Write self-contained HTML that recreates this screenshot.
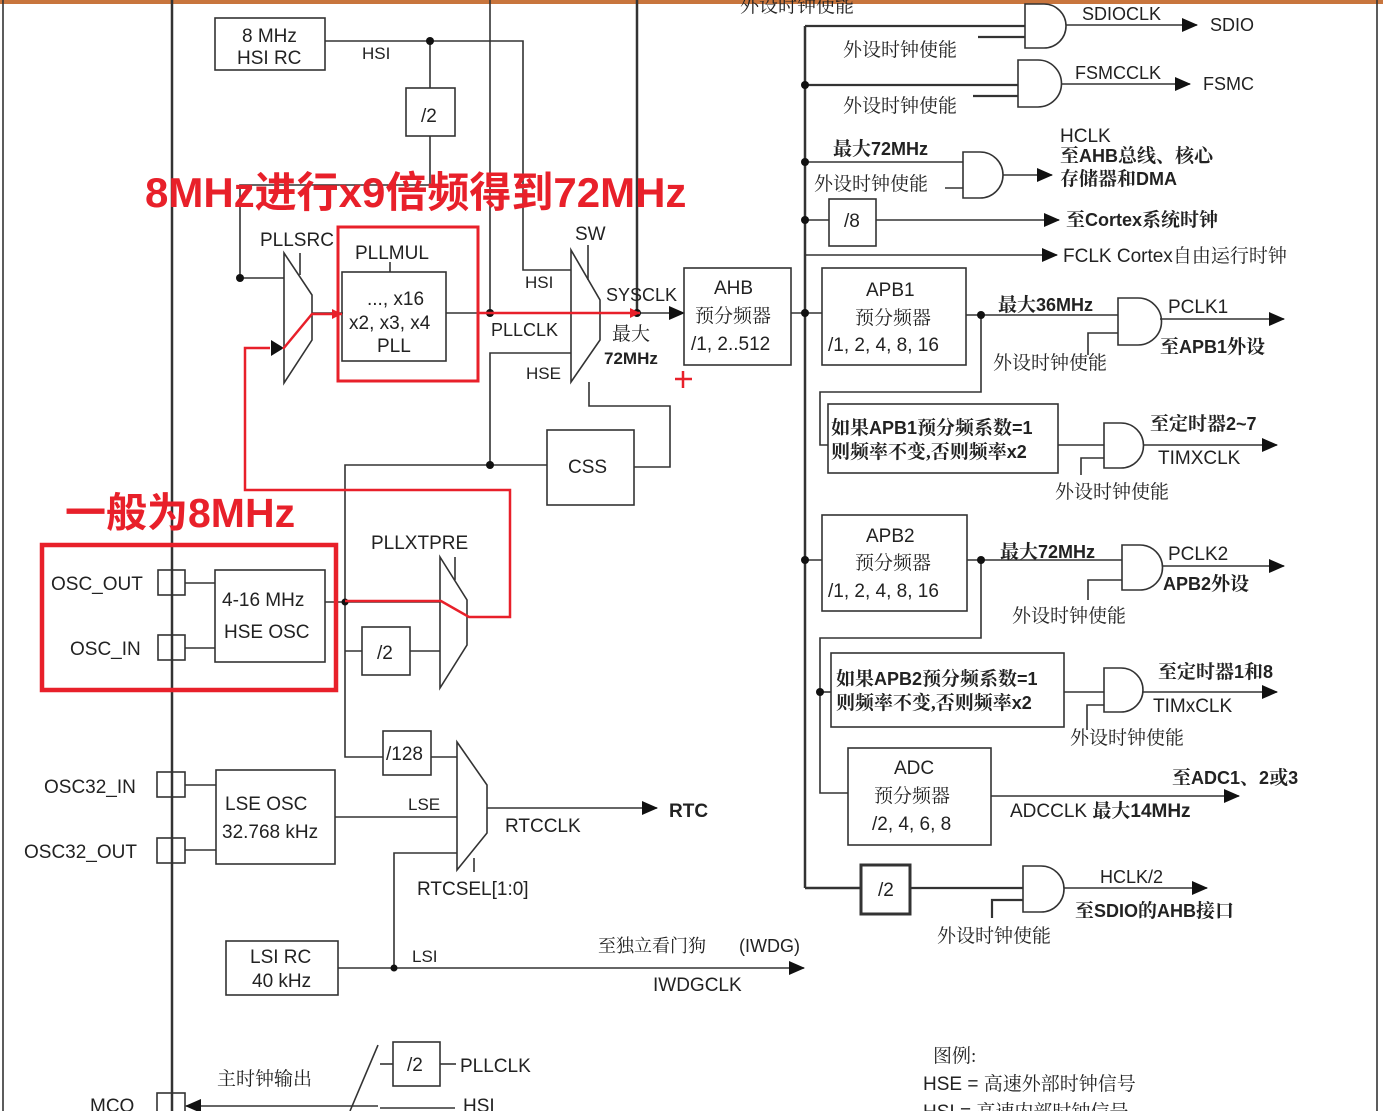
<!DOCTYPE html>
<html><head><meta charset="utf-8"><style>
html,body{margin:0;padding:0;background:#fff;}
svg{display:block;}
text{font-family:"Liberation Sans","Noto Sans CJK SC",sans-serif;font-size:19px;fill:#222;}
.c{font-family:"Liberation Serif","Noto Serif CJK SC",serif;font-size:19px;}
.b{font-weight:bold;}
.r{fill:#e8202a;font-weight:bold;font-family:"Liberation Sans","Noto Sans CJK SC",sans-serif;}
</style></head><body>
<svg width="1383" height="1111" viewBox="0 0 1383 1111" xmlns="http://www.w3.org/2000/svg">
<defs>
<marker id="a" markerWidth="16" markerHeight="14" refX="15" refY="7" orient="auto" markerUnits="userSpaceOnUse"><path d="M0,0 L16,7 L0,14 Z" fill="#111"/></marker>
<marker id="ar" markerWidth="12" markerHeight="10" refX="10" refY="5" orient="auto" markerUnits="userSpaceOnUse"><path d="M0,0 L10,5 L0,10 Z" fill="#e8202a"/></marker>
</defs>
<rect x="0" y="0" width="1383" height="4" fill="#c8753d"/>
<g stroke="#333" stroke-width="1.6" fill="none">
<line x1="3" y1="0" x2="3" y2="1111"/>
<line x1="1377" y1="0" x2="1377" y2="1111"/>
<line x1="172" y1="0" x2="172" y2="1111" stroke-width="2.5"/>
<rect x="215" y="18" width="110" height="52"/>
<polyline points="325,41 523,41 523,270 571,270"/>
<line x1="430" y1="41" x2="430" y2="88"/>
<rect x="406" y="88" width="49" height="48"/>
<polyline points="430,136 430,185 240,185 240,278 284,278"/>
<line x1="490" y1="0" x2="490" y2="313"/>
<line x1="637" y1="0" x2="637" y2="313" stroke-width="2.5"/>
<polygon points="284,253 312,295 312,340 284,383"/>
<line x1="300" y1="253" x2="300" y2="275"/>
<line x1="312" y1="313" x2="343" y2="313"/>
<line x1="390" y1="262" x2="390" y2="272"/>
<rect x="342" y="272" width="104" height="89"/>
<line x1="446" y1="313" x2="571" y2="313"/>
<polygon points="571,250 600,300 600,340 571,382"/>
<line x1="588" y1="245" x2="588" y2="280"/>
<polyline points="490,465 490,353 571,353"/>
<line x1="600" y1="313" x2="684" y2="313" marker-end="url(#a)"/>
<polyline points="589,382 589,406 670,406 670,467 634,467"/>
<rect x="547" y="430" width="87" height="75"/>
<polyline points="547,465 345,465 345,757 383,757"/>
<rect x="684" y="268" width="107" height="97"/>
<line x1="791" y1="313" x2="822" y2="313"/>
<rect x="158" y="570" width="27" height="25"/>
<rect x="158" y="635" width="27" height="25"/>
<line x1="185" y1="583" x2="215" y2="583"/>
<line x1="185" y1="648" x2="215" y2="648"/>
<rect x="215" y="570" width="110" height="92"/>
<line x1="325" y1="602" x2="440" y2="602"/>
<polyline points="345,651 362,651"/>
<rect x="362" y="627" width="48" height="48"/>
<line x1="410" y1="651" x2="440" y2="651"/>
<polygon points="440,557 467,600 467,645 440,688"/>
<line x1="455" y1="557" x2="455" y2="580"/>
<rect x="383" y="731" width="48" height="44"/>
<line x1="431" y1="757" x2="457" y2="757"/>
<polygon points="457,742 487,785 487,833 457,870"/>
<line x1="474" y1="858" x2="474" y2="872"/>
<rect x="157" y="772" width="28" height="25"/>
<rect x="157" y="838" width="28" height="25"/>
<line x1="185" y1="785" x2="216" y2="785"/>
<line x1="185" y1="850" x2="216" y2="850"/>
<rect x="216" y="770" width="119" height="94"/>
<line x1="335" y1="817" x2="457" y2="817"/>
<line x1="487" y1="808" x2="657" y2="808" marker-end="url(#a)"/>
<polyline points="457,853 394,853 394,968"/>
<rect x="226" y="941" width="112" height="54"/>
<line x1="338" y1="968" x2="804" y2="968" marker-end="url(#a)"/>
<rect x="157" y="1093" width="28" height="25"/>
<line x1="378" y1="1106" x2="186" y2="1106" marker-end="url(#a)"/>
<line x1="378" y1="1045" x2="350" y2="1111"/>
<line x1="380" y1="1064" x2="393" y2="1064"/>
<rect x="393" y="1042" width="47" height="44"/>
<line x1="440" y1="1064" x2="456" y2="1064"/>
<line x1="380" y1="1108" x2="455" y2="1108"/>
<line x1="805" y1="26" x2="805" y2="888" stroke-width="2.5"/>
<line x1="805" y1="888" x2="861" y2="888" stroke-width="2.5"/>
<line x1="805" y1="26" x2="1025" y2="26" stroke-width="2.2"/>
<path d="M1025,4 H1044 A22,22 0 0 1 1044,48 H1025 Z"/>
<line x1="978" y1="37" x2="1025" y2="37" stroke-width="2.2"/>
<line x1="1066" y1="25" x2="1197" y2="25" marker-end="url(#a)"/>
<line x1="805" y1="85" x2="1018" y2="85" stroke-width="2.2"/>
<path d="M1018,60 H1038 A23,23 0 0 1 1038,107 H1018 Z"/>
<line x1="973" y1="96" x2="1018" y2="96" stroke-width="2.2"/>
<line x1="1061" y1="84" x2="1190" y2="84" marker-end="url(#a)"/>
<line x1="805" y1="162" x2="963" y2="162"/>
<path d="M963,152 H980 A23,23 0 0 1 980,198 H963 Z"/>
<line x1="945" y1="188" x2="963" y2="188"/>
<line x1="1003" y1="175" x2="1052" y2="175" marker-end="url(#a)"/>
<line x1="805" y1="220" x2="829" y2="220"/>
<rect x="829" y="199" width="47" height="47"/>
<line x1="876" y1="220" x2="1059" y2="220" marker-end="url(#a)"/>
<line x1="805" y1="255" x2="1057" y2="255" marker-end="url(#a)"/>
<rect x="822" y="268" width="144" height="97"/>
<line x1="966" y1="315" x2="1118" y2="315"/>
<path d="M1118,298 H1138 A23,23 0 0 1 1138,345 H1118 Z"/>
<polyline points="1118,333 1088,333 1088,355"/>
<line x1="1160" y1="319" x2="1284" y2="319" marker-end="url(#a)"/>
<polyline points="981,315 981,392 820,392 820,445 828,445"/>
<rect x="828" y="404" width="230" height="69"/>
<line x1="1058" y1="445" x2="1104" y2="445"/>
<path d="M1104,423 H1121 A22.5,22.5 0 0 1 1121,468 H1104 Z"/>
<polyline points="1104,458 1081,458 1081,475"/>
<line x1="1143" y1="445" x2="1277" y2="445" marker-end="url(#a)"/>
<line x1="805" y1="560" x2="822" y2="560"/>
<rect x="822" y="515" width="145" height="96"/>
<line x1="967" y1="560" x2="1122" y2="560"/>
<path d="M1122,545 H1140 A22.5,22.5 0 0 1 1140,590 H1122 Z"/>
<polyline points="1122,580 1088,580 1088,600"/>
<line x1="1162" y1="566" x2="1284" y2="566" marker-end="url(#a)"/>
<polyline points="981,560 981,638 820,638 820,793 848,793"/>
<line x1="820" y1="692" x2="831" y2="692"/>
<rect x="831" y="653" width="233" height="74"/>
<line x1="1064" y1="692" x2="1104" y2="692"/>
<path d="M1104,668 H1121 A22,22 0 0 1 1121,712 H1104 Z"/>
<polyline points="1104,705 1087,705 1087,730"/>
<line x1="1143" y1="692" x2="1277" y2="692" marker-end="url(#a)"/>
<rect x="848" y="748" width="143" height="97"/>
<line x1="991" y1="796" x2="1239" y2="796" marker-end="url(#a)"/>
<rect x="861" y="865" width="49" height="49" stroke-width="3"/>
<line x1="910" y1="888" x2="1023" y2="888" stroke-width="2.2"/>
<path d="M1023,866 H1041 A23,23 0 0 1 1041,912 H1023 Z"/>
<polyline points="1023,900 992,900 992,918" stroke-width="2.2"/>
<line x1="1064" y1="888" x2="1207" y2="888" marker-end="url(#a)"/>
</g>
<g fill="#111">
<circle cx="430" cy="41" r="4"/><circle cx="240" cy="278" r="4"/><circle cx="490" cy="313" r="4"/>
<circle cx="637" cy="313" r="4"/><circle cx="490" cy="465" r="4"/><circle cx="345" cy="602" r="3.5"/>
<circle cx="394" cy="968" r="3.5"/><circle cx="805" cy="85" r="4"/><circle cx="805" cy="162" r="4"/>
<circle cx="805" cy="220" r="4"/><circle cx="805" cy="313" r="4"/><circle cx="981" cy="315" r="4"/>
<circle cx="805" cy="560" r="4"/><circle cx="981" cy="560" r="4"/><circle cx="820" cy="692" r="4"/>
<polygon points="271,340 284,348 271,356"/>
</g>
<g stroke="#e8202a" fill="none">
<rect x="338" y="227" width="140" height="154" stroke-width="3"/>
<rect x="42" y="545" width="294" height="145" stroke-width="4.5"/>
<polyline points="270,348 245,348 245,490 510,490 510,617 469,617 441,601 345,601" stroke-width="2.5"/>
<polyline points="283,349 312,314 342,314" stroke-width="2.5" marker-end="url(#ar)"/>
<line x1="478" y1="313" x2="640" y2="313" stroke-width="2.5" marker-end="url(#ar)"/>
<line x1="675" y1="379" x2="692" y2="379" stroke-width="2.5"/>
<line x1="683" y1="371" x2="683" y2="388" stroke-width="2.5"/>
</g>
<text class="r" x="145" y="207" style="font-size:42px">8MHz进行x9倍频得到72MHz</text>
<text class="r" x="65" y="527" style="font-size:41px">一般为8MHz</text>
<text x="242" y="42">8 MHz</text><text x="237" y="64">HSI RC</text>
<text x="362" y="59" style="font-size:17px">HSI</text>
<text x="421" y="122">/2</text>
<text x="260" y="246">PLLSRC</text>
<text x="355" y="259">PLLMUL</text>
<text x="367" y="305">..., x16</text>
<text x="349" y="329">x2, x3, x4</text>
<text x="377" y="352">PLL</text>
<text x="575" y="240">SW</text>
<text x="525" y="288" style="font-size:17px">HSI</text>
<text x="491" y="336" style="font-size:18px">PLLCLK</text>
<text x="526" y="379" style="font-size:17px">HSE</text>
<text x="606" y="301" style="font-size:18px">SYSCLK</text>
<text class="c" x="612" y="340">最大</text>
<text class="b" x="604" y="364" style="font-size:17px">72MHz</text>
<text x="714" y="294">AHB</text><text class="c" x="695" y="322">预分频器</text><text x="691" y="350">/1, 2..512</text>
<text x="568" y="473">CSS</text>
<text x="371" y="549">PLLXTPRE</text>
<text x="377" y="659">/2</text>
<text x="51" y="590">OSC_OUT</text><text x="70" y="655">OSC_IN</text>
<text x="222" y="606">4-16 MHz</text><text x="224" y="638">HSE OSC</text>
<text x="386" y="760">/128</text>
<text x="44" y="793">OSC32_IN</text><text x="24" y="858">OSC32_OUT</text>
<text x="225" y="810">LSE OSC</text><text x="222" y="838">32.768 kHz</text>
<text x="408" y="810" style="font-size:17px">LSE</text>
<text x="505" y="832">RTCCLK</text>
<text class="b" x="669" y="817">RTC</text>
<text x="417" y="895">RTCSEL[1:0]</text>
<text x="250" y="963">LSI RC</text><text x="252" y="987">40 kHz</text>
<text x="412" y="962" style="font-size:17px">LSI</text>
<text class="c" x="598" y="952" style="font-size:18px">至独立看门狗</text>
<text x="739" y="952" style="font-size:18px">(IWDG)</text>
<text x="653" y="991">IWDGCLK</text>
<text class="c" x="217" y="1085">主时钟输出</text>
<text x="407" y="1071">/2</text>
<text x="460" y="1072">PLLCLK</text>
<text x="463" y="1112">HSI</text>
<text x="90" y="1112">MCO</text>
<text class="c" x="740" y="12">外设时钟使能</text>
<text x="1082" y="20" style="font-size:18px">SDIOCLK</text><text x="1210" y="31" style="font-size:18px">SDIO</text>
<text class="c" x="843" y="56">外设时钟使能</text>
<text x="1075" y="79" style="font-size:18px">FSMCCLK</text><text x="1203" y="90" style="font-size:18px">FSMC</text>
<text class="c" x="843" y="112">外设时钟使能</text>
<text class="b" x="833" y="155" style="font-size:18px"><tspan class="c">最大</tspan>72MHz</text>
<text class="c" x="814" y="190">外设时钟使能</text>
<text x="1060" y="142">HCLK</text>
<text class="b" x="1060" y="162" style="font-size:18px"><tspan class="c">至</tspan>AHB<tspan class="c">总线、核心</tspan></text>
<text class="b" x="1060" y="185" style="font-size:18px"><tspan class="c">存储器和</tspan>DMA</text>
<text x="844" y="227">/8</text>
<text class="b" x="1066" y="226" style="font-size:18px"><tspan class="c">至</tspan>Cortex<tspan class="c">系统时钟</tspan></text>
<text x="1063" y="262" style="font-size:19px">FCLK Cortex<tspan class="c">自由运行时钟</tspan></text>
<text x="866" y="296">APB1</text><text class="c" x="855" y="324">预分频器</text><text x="828" y="351">/1, 2, 4, 8, 16</text>
<text class="b" x="998" y="311" style="font-size:18px"><tspan class="c">最大</tspan>36MHz</text>
<text x="1168" y="313">PCLK1</text>
<text class="b" x="1160" y="353" style="font-size:18px"><tspan class="c">至</tspan>APB1<tspan class="c">外设</tspan></text>
<text class="c" x="993" y="369">外设时钟使能</text>
<text class="b" x="831" y="434" style="font-size:18px"><tspan class="c">如果</tspan>APB1<tspan class="c">预分频系数</tspan>=1</text>
<text class="b" x="831" y="458" style="font-size:18px"><tspan class="c">则频率不变,否则频率</tspan>x2</text>
<text class="b" x="1150" y="430" style="font-size:18px"><tspan class="c">至定时器</tspan>2~7</text>
<text x="1158" y="464">TIMXCLK</text>
<text class="c" x="1055" y="498">外设时钟使能</text>
<text x="866" y="542">APB2</text><text class="c" x="855" y="569">预分频器</text><text x="828" y="597">/1, 2, 4, 8, 16</text>
<text class="b" x="1000" y="558" style="font-size:18px"><tspan class="c">最大</tspan>72MHz</text>
<text x="1168" y="560">PCLK2</text>
<text class="b" x="1163" y="590" style="font-size:18px">APB2<tspan class="c">外设</tspan></text>
<text class="c" x="1012" y="622">外设时钟使能</text>
<text class="b" x="836" y="685" style="font-size:18px"><tspan class="c">如果</tspan>APB2<tspan class="c">预分频系数</tspan>=1</text>
<text class="b" x="836" y="709" style="font-size:18px"><tspan class="c">则频率不变,否则频率</tspan>x2</text>
<text class="b" x="1158" y="678" style="font-size:18px"><tspan class="c">至定时器</tspan>1<tspan class="c">和</tspan>8</text>
<text x="1153" y="712">TIMxCLK</text>
<text class="c" x="1070" y="744">外设时钟使能</text>
<text x="894" y="774">ADC</text><text class="c" x="874" y="802">预分频器</text><text x="872" y="830">/2, 4, 6, 8</text>
<text class="b" x="1172" y="784" style="font-size:18px"><tspan class="c">至</tspan>ADC1<tspan class="c">、</tspan>2<tspan class="c">或</tspan>3</text>
<text x="1010" y="817">ADCCLK <tspan class="c b">最大</tspan><tspan class="b">14MHz</tspan></text>
<text x="878" y="896">/2</text>
<text x="1100" y="883" style="font-size:18px">HCLK/2</text>
<text class="b" x="1075" y="917" style="font-size:18px"><tspan class="c">至</tspan>SDIO<tspan class="c">的</tspan>AHB<tspan class="c">接口</tspan></text>
<text class="c" x="937" y="942">外设时钟使能</text>
<text class="c" x="933" y="1062">图例:</text>
<text x="923" y="1090">HSE = <tspan class="c">高速外部时钟信号</tspan></text>
<text x="923" y="1118">HSI = <tspan class="c">高速内部时钟信号</tspan></text>
</svg>
</body></html>
